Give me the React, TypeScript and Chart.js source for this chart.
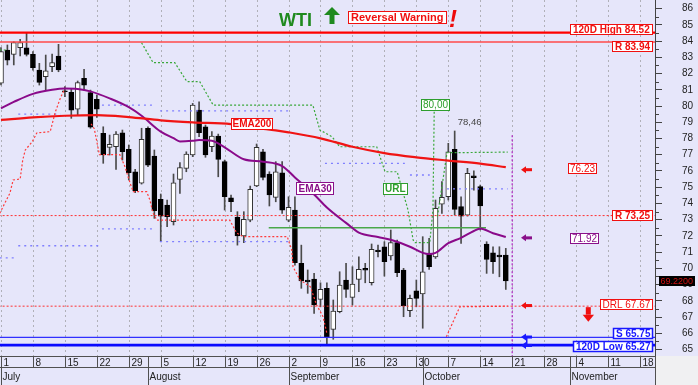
import React, { useEffect, useRef } from 'react';
import { Chart, registerables } from 'chart.js';

Chart.register(...registerables);

// ---------- DATA (day index = weekday count from Mon 1 Jul 2024) ----------
const OPEN = [81.4, 83.45, 83.18, 83.6, 83.59, 83.18, 82.22, 81.8, 82.42, 83.08,
  80.94, 80.84, 79.8, 81.7, 80.82, 80.41, 78.32, 77.45, 77.49, 78.35,
  77.33, 75.95, 75.24, 78.63, 76.92, 74.25, 73.9, 72.87, 75.48, 76.16,
  76.98, 79.75, 78.72, 77.49, 78.15, 76.57, 74.35, 73.14, 71.99, 72.97,
  75.07, 77.18, 75.8, 74.37, 75.89, 72.97, 73.59, 70.31, 69.28, 69.34,
  68.09, 68.77, 66.24, 67.33, 69.28, 68.21, 69.32, 70.0, 69.11, 71.13,
  71.33, 70.76, 71.58, 69.89, 67.39, 68.62, 68.42, 70.92, 70.71, 73.96,
  74.41, 77.33, 73.8, 73.28, 75.7, 75.03, 71.5, 70.96, 70.82, 70.82];
const HIGH = [83.6, 83.76, 83.96, 84.1, 84.52, 83.35, 82.63, 83.14, 83.2, 83.8,
  81.19, 81.09, 81.54, 82.26, 80.98, 80.68, 78.72, 78.21, 78.42, 78.52,
  77.6, 76.1, 78.63, 78.72, 77.29, 74.58, 74.21, 75.81, 76.51, 77.18,
  80.16, 80.26, 78.83, 78.42, 78.27, 76.67, 74.51, 73.49, 73.49, 75.07,
  77.66, 77.33, 75.95, 76.57, 76.57, 74.41, 74.41, 71.43, 69.9, 69.69,
  69.11, 69.11, 68.05, 69.79, 70.31, 70.1, 70.71, 70.31, 71.5, 71.43,
  71.64, 72.36, 71.74, 70.0, 68.35, 69.28, 71.95, 71.85, 74.21, 75.34,
  77.7, 78.46, 74.41, 76.16, 76.01, 75.13, 71.64, 71.33, 71.33, 71.23];
const LOW = [81.3, 82.53, 82.53, 83.08, 83.08, 82.2, 81.29, 80.98, 82.12, 82.11,
  80.57, 79.24, 79.44, 80.98, 78.63, 79.3, 76.47, 76.98, 76.1, 76.67,
  75.44, 74.66, 75.19, 76.26, 73.08, 71.64, 72.56, 72.67, 74.62, 75.95,
  76.88, 78.11, 76.84, 77.18, 75.64, 73.59, 73.49, 71.43, 71.58, 72.87,
  75.03, 75.44, 73.84, 74.1, 73.39, 72.87, 70.2, 68.77, 68.46, 67.23,
  67.63, 65.27, 65.63, 67.26, 68.21, 67.74, 68.56, 69.11, 68.97, 70.71,
  69.52, 70.51, 69.48, 67.02, 67.02, 67.63, 66.31, 69.94, 70.61, 73.39,
  74.21, 73.28, 71.54, 73.22, 74.82, 72.36, 69.69, 69.69, 69.48, 68.7];
const CLOSE = [83.35, 82.83, 83.9, 83.9, 83.18, 82.36, 81.46, 82.17, 82.67, 82.22,
  80.88, 79.75, 81.44, 81.29, 78.69, 79.8, 76.98, 77.64, 78.27, 77.18,
  75.89, 74.78, 77.95, 76.36, 73.55, 73.22, 73.18, 75.27, 76.2, 77.04,
  80.06, 78.35, 76.98, 78.15, 76.71, 74.41, 74.1, 71.99, 73.02, 74.87,
  77.45, 75.6, 74.52, 75.95, 73.59, 73.76, 70.35, 69.22, 69.17, 67.74,
  68.7, 65.78, 67.37, 68.97, 68.7, 69.03, 69.94, 69.89, 71.17, 71.02,
  70.41, 71.58, 69.73, 67.68, 68.15, 68.15, 69.79, 70.1, 73.7, 74.37,
  77.18, 73.63, 73.22, 75.85, 75.58, 73.84, 70.55, 70.41, 70.71, 69.22];

const EMA200 = [[0, 79.14], [5, 79.3], [10, 79.4], [15, 79.44], [20, 79.32], [25, 79.12],
  [30, 78.99], [36, 78.88], [40, 78.64], [43, 78.5], [45, 78.38], [50, 78.01], [55, 77.49],
  [60, 77.1], [65, 76.84], [70, 76.64], [75, 76.45], [79, 76.23]];
const EMA30 = [[0, 79.86], [2, 80.25], [5, 80.75], [8, 81.0], [10, 81.08], [12, 81.05],
  [14, 80.9], [17, 80.47], [20, 79.93], [22, 79.4], [25, 78.42], [27, 78.02], [28, 77.82],
  [30, 77.86], [31, 77.9], [33, 77.86], [35, 77.45], [38, 76.72], [41, 76.57], [44, 76.3],
  [46, 75.6], [49, 74.55], [51, 73.75], [54, 72.8], [56, 72.2], [59, 71.93], [61, 71.76],
  [64, 71.33], [66, 70.95], [67, 70.88], [68, 70.95], [70, 71.55], [72, 71.88], [74, 72.3],
  [75, 72.46], [77, 72.16], [79, 71.93]];

const URL_PATH = [[-0.2, 83.45], [1, 83.45], null,
  [22, 83.9], [23.8, 82.67], [27.2, 82.67], [29.1, 81.5], [31.1, 81.5], [33.2, 80.06],
  [48.8, 80.06], [49.9, 78.52], [51.8, 78.11], [53, 77.49], [58.8, 77.49], [60.1, 75.95],
  [62, 75.95], [63.7, 73.59], [64.5, 71.74], [64.8, 71.58], [67.1, 71.58], [67.6, 73.59],
  [67.8, 79.8], null,
  [68.3, 73.2], [69.8, 77.12], [79.3, 77.16]];
const DRL_PATH = [[-0.2, 73.39], [1.4, 74.64], [1.9, 75.44], [3, 75.5], [3.4, 76.67],
  [3.8, 77.29], [4.9, 77.8], [5.6, 78.34], [7.7, 78.42], [8.5, 79.63], [9.3, 80.5],
  [9.9, 81.0], null,
  [14.1, 78.9], [14.6, 78.6], [15.4, 77.0], [18.6, 77.0], [19.4, 76.26], [20.2, 75.25],
  [20.7, 74.72], [22.8, 74.72], [23.3, 74.21], [23.8, 73.4], [24.4, 72.97], [35.8, 72.97],
  [36.9, 72.17], [37.9, 71.95], [44.8, 71.95], [45.5, 71.13], [45.7, 70.1], [46.8, 69.28],
  [48.4, 68.87], [49.4, 67.74], [50.4, 67.02], [51, 66.0], null,
  [69.7, 65.78], [71.8, 67.63], [79.3, 67.67]];
const BLUE_LEVELS = [[2.7, 9.3, 79.5], [15.8, 24.1, 80.06], [24.9, 45.2, 79.7],
  [50.7, 63.2, 76.47], [64, 67.1, 75.75], [69.8, 79.3, 74.9],
  [-0.2, 2.2, 70.65], [2.7, 15.5, 71.39], [15.8, 24.1, 72.43], [24.9, 45.2, 71.65]];
const GREEN_LEVEL = [41.9, 75.9, 72.5];

const HIGH_120D = 84.52;
const R1 = 83.94;
const R2 = 73.25;
const DRL = 67.67;
const S1 = 65.75;
const LOW_120D = 65.27;
const LAST = 69.22;
const EMA200_LAST = 76.23;
const EMA30_LAST = 71.92;
const URL_MARK = 80.0;
const PEAK = 78.46;
const TODAY_DAY = 80;

const Y_TICKS = [65, 66, 67, 68, 69, 70, 71, 72, 73, 74, 75, 76, 77, 78, 79, 80, 81, 82, 83, 84, 85, 86];
const WEEK_DAYS = [0, 5, 10, 15, 20, 25, 30, 35, 40, 45, 50, 55, 60, 65, 70, 75, 80, 85, 90, 95, 100];
const WEEK_LABELS = ['1', '8', '15', '22', '29', '5', '12', '19', '26', '2', '9', '16', '23', '30', '7', '14', '21', '28', '4', '11', '18'];
const MONTH_DAYS = [0, 23, 45, 66, 89];
const MONTH_LABELS = ['July', 'August', 'September', 'October', 'November'];

const FONT = '"Liberation Sans", Arial, sans-serif';
const RED = '#f01010';
const PURPLE = '#8a108a';
const GREEN = '#2e9e2e';
const BLUE = '#1818ff';

const pts = (arr: any[]) => arr.map((p) => (p ? { x: p[0], y: p[1] } : { x: NaN, y: null }));

function hline(v: number, color: string, width: number, dash: number[] = []) {
  return {
    type: 'line', data: [{ x: -1, y: v }, { x: 104, y: v }], borderColor: color,
    borderWidth: width, borderDash: dash, pointRadius: 0, order: 2,
  };
}

function tag(ctx: CanvasRenderingContext2D, text: string, o: any) {
  const size = o.size || 10;
  ctx.font = `${o.bold ? 'bold ' : ''}${size}px ${FONT}`;
  const pad = o.pad ?? 3;
  const h = o.h || 11;
  const w = Math.round(ctx.measureText(text).width + pad * 2);
  const x = Math.round(o.right !== undefined ? o.right - w : o.left);
  const y = Math.round(o.cy - h / 2);
  ctx.fillStyle = o.fill || '#ffffff';
  ctx.fillRect(x, y, w, h);
  if (o.border !== false) {
    ctx.strokeStyle = o.color;
    ctx.lineWidth = o.lw || 1;
    ctx.strokeRect(x + 0.5, y + 0.5, w - 1, h - 1);
  }
  ctx.fillStyle = o.textColor || o.color;
  ctx.textAlign = 'left';
  ctx.textBaseline = 'middle';
  ctx.fillText(text, x + pad, y + h / 2 + 0.5);
}

function leftArrow(ctx: CanvasRenderingContext2D, x: number, cy: number, color: string) {
  ctx.fillStyle = color;
  ctx.beginPath();
  ctx.moveTo(x, cy);
  ctx.lineTo(x + 5, cy - 3.5);
  ctx.lineTo(x + 5, cy + 3.5);
  ctx.closePath();
  ctx.fill();
  ctx.fillRect(x + 5, cy - 1.5, 6, 3);
}

const backgroundPlugin = {
  id: 'bgPlugin',
  beforeDraw(chart: any) {
    const { ctx, width, height, chartArea } = chart;
    ctx.save();
    ctx.fillStyle = '#e6e6fa';
    ctx.fillRect(0, 0, width, height);
    ctx.fillStyle = '#f0f0f2';
    ctx.fillRect(chartArea.right, chartArea.bottom, width - chartArea.right, height - chartArea.bottom);
    ctx.restore();
  },
  beforeDatasetsDraw(chart: any) {
    const { ctx, chartArea, scales } = chart;
    ctx.save();
    ctx.strokeStyle = '#b0b0b8';
    ctx.lineWidth = 1;
    ctx.setLineDash([2, 3]);
    WEEK_DAYS.forEach((d) => {
      const x = Math.round(scales.x.getPixelForValue(d)) + 0.5;
      ctx.beginPath();
      ctx.moveTo(x, chartArea.top);
      ctx.lineTo(x, chartArea.bottom);
      ctx.stroke();
    });
    ctx.restore();
  },
};

const axisPlugin = {
  id: 'axisPlugin',
  afterDraw(chart: any) {
    const { ctx, chartArea, scales, height } = chart;
    const xs = scales.x;
    const ys = scales.y;
    const b = chartArea.bottom;
    ctx.save();
    // minor ticks on the right axis
    ctx.strokeStyle = '#444';
    ctx.lineWidth = 1;
    Y_TICKS.forEach((v) => {
      const y = Math.round(ys.getPixelForValue(v - 0.5)) + 0.5;
      if (y > chartArea.top && y < b) {
        ctx.beginPath();
        ctx.moveTo(chartArea.right, y);
        ctx.lineTo(chartArea.right + 4, y);
        ctx.stroke();
      }
    });
    // bottom axis frame
    ctx.strokeStyle = '#505050';
    ctx.beginPath();
    ctx.moveTo(0, b + 0.5);
    ctx.lineTo(chartArea.right, b + 0.5);
    ctx.moveTo(0, b + 11.5);
    ctx.lineTo(chartArea.right, b + 11.5);
    ctx.stroke();
    ctx.fillStyle = '#222';
    ctx.font = `10px ${FONT}`;
    ctx.textAlign = 'left';
    ctx.textBaseline = 'alphabetic';
    WEEK_DAYS.forEach((d, i) => {
      const x = Math.round(xs.getPixelForValue(d)) + 0.5;
      ctx.beginPath();
      ctx.moveTo(x, b);
      ctx.lineTo(x, b + 11.5);
      ctx.stroke();
      ctx.fillText(WEEK_LABELS[i], x + 2, b + 10);
    });
    MONTH_DAYS.forEach((d, i) => {
      const x = Math.round(xs.getPixelForValue(d)) + 0.5;
      ctx.beginPath();
      ctx.moveTo(x, b);
      ctx.lineTo(x, height);
      ctx.stroke();
      ctx.fillText(MONTH_LABELS[i], x + 1, b + 24);
    });
    ctx.beginPath();
    ctx.moveTo(chartArea.right + 0.5, b);
    ctx.lineTo(chartArea.right + 0.5, height);
    ctx.stroke();
    ctx.restore();
  },
};

const labelPlugin = {
  id: 'labelPlugin',
  afterDatasetsDraw(chart: any) {
    const { ctx, scales } = chart;
    const xs = scales.x;
    const py = (v: number) => scales.y.getPixelForValue(v);
    const px = (d: number) => xs.getPixelForValue(d);
    ctx.save();
    // right-side level tags
    tag(ctx, `120D High ${HIGH_120D.toFixed(2)}`, { right: 653, cy: py(HIGH_120D) - 3.4, color: RED, bold: true });
    tag(ctx, `R ${R1.toFixed(2)}`, { right: 653, cy: py(R1) + 4.4, color: RED, bold: true });
    tag(ctx, `R ${R2.toFixed(2).replace('.', ',')}`, { right: 653, cy: py(R2) + 0.3, color: RED, bold: true });
    tag(ctx, `DRL ${DRL.toFixed(2)}`, { right: 653, cy: py(DRL) - 2, color: RED, pad: 2.5 });
    tag(ctx, `S ${S1.toFixed(2)}`, { right: 653, cy: py(S1) - 4, color: BLUE, bold: true, lw: 1.5 });
    tag(ctx, `120D Low ${LOW_120D.toFixed(2)}`, { right: 653, cy: py(LOW_120D) + 1.3, color: BLUE, bold: true, lw: 1.5 });
    tag(ctx, EMA200_LAST.toFixed(2), { left: 568, cy: py(EMA200_LAST) + 1, color: RED, pad: 2 });
    tag(ctx, EMA30_LAST.toFixed(2), { left: 570, cy: py(EMA30_LAST) + 1.4, color: PURPLE, pad: 2 });
    // on-chart labels
    tag(ctx, 'EMA200', { left: px(36), cy: py(78.92), color: RED, bold: true, pad: 1.5, h: 12 });
    tag(ctx, 'EMA30', { left: px(46.2), cy: py(74.92), color: PURPLE, bold: true, pad: 2.5, h: 13 });
    tag(ctx, 'URL', { left: px(59.8), cy: py(74.86), color: GREEN, bold: true, pad: 2, h: 12 });
    tag(ctx, URL_MARK.toFixed(2).replace('.', ','), { left: px(65.7), cy: py(URL_MARK) - 1.5, color: GREEN, pad: 2, h: 12 });
    ctx.font = `9.5px ${FONT}`;
    ctx.fillStyle = '#444';
    ctx.textAlign = 'left';
    ctx.textBaseline = 'middle';
    ctx.fillText(PEAK.toFixed(2).replace('.', ','), px(71) + 3, py(PEAK) - 9);
    // last price tag
    tag(ctx, LAST.toFixed(4), { left: 659, cy: py(LAST), color: '#000', fill: '#000', textColor: '#d01010', size: 9, pad: 1.5, h: 10, border: false });
    // arrows
    const ax = 521;
    leftArrow(ctx, ax, py(EMA200_LAST) + 2.5, RED);
    leftArrow(ctx, ax, py(EMA30_LAST) + 0.7, PURPLE);
    leftArrow(ctx, ax, py(DRL) - 0.6, RED);
    leftArrow(ctx, ax, py(S1) - 0.3, BLUE);
    leftArrow(ctx, ax, py(LOW_120D) + 0.3, BLUE);
    ctx.fillStyle = BLUE;
    ctx.fillRect(ax + 5, py(S1), 1.5, py(LOW_120D) - py(S1));
    // down arrow
    ctx.fillStyle = RED;
    ctx.fillRect(585.8, py(DRL) + 1, 5, 7.5);
    ctx.beginPath();
    ctx.moveTo(582.7, py(DRL) + 8.5);
    ctx.lineTo(594, py(DRL) + 8.5);
    ctx.lineTo(588.3, py(DRL) + 15.5);
    ctx.closePath();
    ctx.fill();
    // title block
    ctx.font = `bold 18px ${FONT}`;
    ctx.fillStyle = '#1f8a1f';
    ctx.textBaseline = 'alphabetic';
    ctx.fillText('WTI', 279, 26);
    ctx.beginPath();
    ctx.moveTo(332, 7);
    ctx.lineTo(324, 15);
    ctx.lineTo(340, 15);
    ctx.closePath();
    ctx.fill();
    ctx.fillRect(329.5, 14, 5, 10);
    tag(ctx, 'Reversal Warning', { left: 348, cy: 17, color: RED, bold: true, size: 11, pad: 3, h: 13 });
    ctx.font = `italic bold 24px ${FONT}`;
    ctx.fillStyle = '#ee0a0a';
    ctx.textBaseline = 'alphabetic';
    ctx.fillText('!', 449, 27);
    ctx.restore();
  },
};

export default function App() {
  const ref = useRef<HTMLCanvasElement>(null);
  useEffect(() => {
    document.body.style.margin = '0';
    Chart.defaults.font.family = FONT;
    const isUp = OPEN.map((o, i) => CLOSE[i] >= o);
    const blueData: any[] = [];
    BLUE_LEVELS.forEach(([a, b, v]) => {
      blueData.push([a, v], [b, v], null);
    });
    const chart = new Chart(ref.current as HTMLCanvasElement, {
      type: 'line',
      data: {
        datasets: [
          hline(HIGH_120D, '#ff0000', 2.2),
          hline(R1, '#ff4a4a', 1.4),
          hline(R2, '#ff3030', 1, [2, 2]),
          hline(DRL, '#ff3030', 1, [2, 2]),
          hline(S1, '#3030ff', 1.4),
          hline(LOW_120D, '#0a0aff', 2.6),
          {
            type: 'line', data: pts([[GREEN_LEVEL[0], GREEN_LEVEL[2]], [GREEN_LEVEL[1], GREEN_LEVEL[2]]]),
            borderColor: '#4aa84a', borderWidth: 1.3, pointRadius: 0, order: 2,
          },
          {
            type: 'line', data: pts(EMA200), borderColor: '#f01414', borderWidth: 2.2,
            pointRadius: 0, cubicInterpolationMode: 'monotone', order: 1,
          },
          {
            type: 'line', data: pts(EMA30), borderColor: '#8a0a8a', borderWidth: 2,
            pointRadius: 0, cubicInterpolationMode: 'monotone', order: 1,
          },
          {
            type: 'line', data: pts(URL_PATH), borderColor: '#3aa83a', borderWidth: 1.2,
            borderDash: [2, 2], pointRadius: 0, spanGaps: false, order: 3,
          },
          {
            type: 'line', data: pts(DRL_PATH), borderColor: '#ff3a3a', borderWidth: 1.2,
            borderDash: [2, 2], pointRadius: 0, spanGaps: false, order: 3,
          },
          {
            type: 'line', data: pts(blueData), borderColor: '#8080ff', borderWidth: 1.3,
            borderDash: [2, 4], pointRadius: 0, spanGaps: false, order: 3,
          },
          {
            type: 'line', data: pts([[TODAY_DAY, 78.2], [TODAY_DAY, 64.0]]), borderColor: '#b020c0',
            borderWidth: 1.2, borderDash: [2, 2], pointRadius: 0, order: 3,
          },
          {
            type: 'bar', data: OPEN.map((o, i) => ({ x: i, y: [o, CLOSE[i]] })) as any,
            backgroundColor: isUp.map((u) => (u ? '#ffffff' : '#000000')),
            borderColor: isUp.map((u) => (u ? '#303030' : '#000000')),
            borderWidth: 1, borderSkipped: false, barThickness: 5, grouped: false, order: 10,
          },
          {
            type: 'bar', data: LOW.map((l, i) => ({ x: i, y: [l, HIGH[i]] })) as any,
            backgroundColor: '#4a4a4a', borderWidth: 0, barThickness: 1, grouped: false, order: 11,
          },
        ] as any,
      },
      options: {
        responsive: false,
        animation: false,
        events: [],
        layout: { padding: { left: 0, right: 0, top: 0, bottom: 29 } },
        plugins: { legend: { display: false }, tooltip: { enabled: false } },
        scales: {
          x: { type: 'linear', min: -0.156, max: 102.35, offset: false, display: false },
          y: {
            type: 'linear', position: 'right', min: 64.6, max: 86.53,
            afterBuildTicks: (s: any) => { s.ticks = Y_TICKS.map((v) => ({ value: v })); },
            afterFit: (s: any) => { s.width = 43; s.paddingTop = 0; s.paddingBottom = 0; },
            grid: { drawOnChartArea: false, tickLength: 7, color: '#444', tickColor: '#444' },
            border: { display: true, color: '#444', width: 1 },
            ticks: { padding: 20, color: '#222', font: { size: 10, family: FONT }, callback: (v: any) => String(v) },
          },
        },
      } as any,
      plugins: [backgroundPlugin, axisPlugin, labelPlugin],
    });
    return () => chart.destroy();
  }, []);
  return (
    <div style={{ width: 698, height: 385 }}>
      <canvas ref={ref} width={698} height={385} style={{ display: 'block' }} />
    </div>
  );
}
